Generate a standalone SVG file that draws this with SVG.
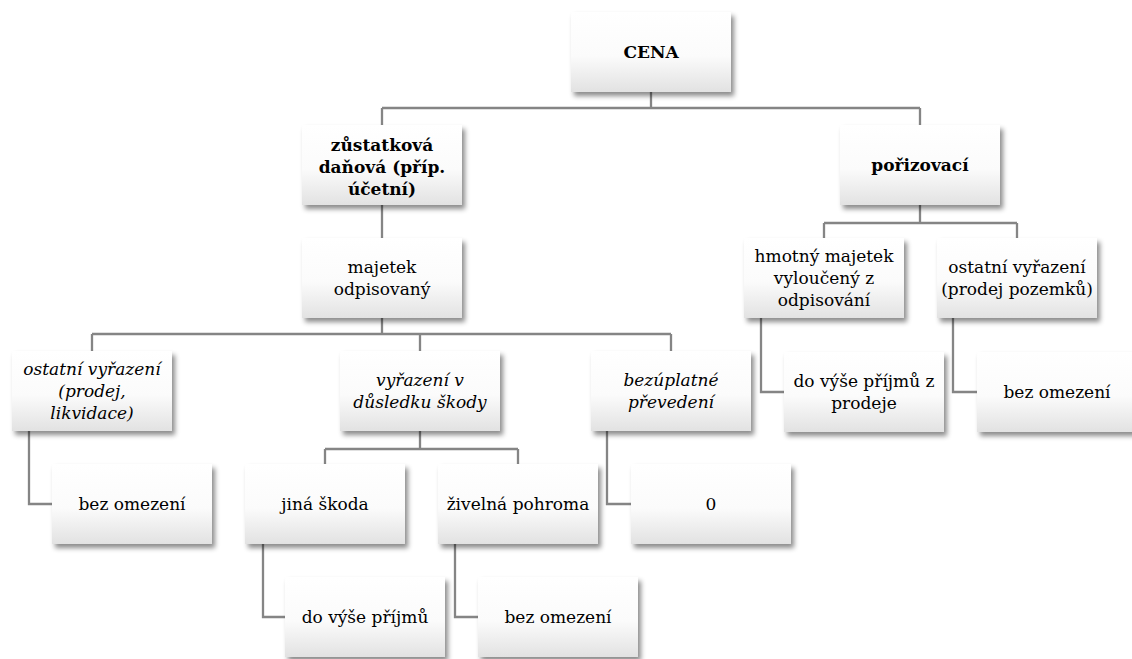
<svg xmlns="http://www.w3.org/2000/svg" width="1132" height="659" viewBox="0 0 1132 659">
<style>
.box{fill:url(#g);filter:url(#sh);}
text{font-family:'DejaVu Serif',serif;font-size:17px;fill:#000;text-anchor:middle;}
.b{font-weight:bold;}
.i{font-style:italic;}
.c{fill:none;stroke:#858585;stroke-width:2.3;}
</style>
<defs>
<linearGradient id="g" x1="0" y1="0" x2="0" y2="1">
<stop offset="0" stop-color="#ffffff"/>
<stop offset="0.55" stop-color="#fbfbfb"/>
<stop offset="1" stop-color="#e2e2e2"/>
</linearGradient>
<filter id="sh" x="-10%" y="-10%" width="125%" height="135%">
<feDropShadow dx="3" dy="4" stdDeviation="2.5" flood-color="#000" flood-opacity="0.45"/>
</filter>
</defs>
<rect width="1132" height="659" fill="#fff"/>
<g id="connectors">
<path class="c" d="M651 92V108M382 108H920M382 108V125M920 108V125"/>
<path class="c" d="M382 205V238"/>
<path class="c" d="M382 318V334M92 334H671M92 334V351M420 334V351M671 334V351"/>
<path class="c" d="M920 205V223M824 223H1017M824 223V238M1017 223V238"/>
<path class="c" d="M761 318V392H784"/>
<path class="c" d="M953 318V392H977"/>
<path class="c" d="M29 431V504H52"/>
<path class="c" d="M420 431V449M325 449H518M325 449V464M518 449V464"/>
<path class="c" d="M607 431V504H631"/>
<path class="c" d="M263 544V617H285"/>
<path class="c" d="M455 544V617H478"/>
</g>
<g id="cena"><rect class="box" x="571" y="12" width="160" height="80"/><text class="b" x="651" y="58">CENA</text></g>
<g id="zustatkova"><rect class="box" x="302" y="125" width="160" height="80"/><text class="b" x="382" y="151">zůstatková</text><text class="b" x="382" y="173">daňová (příp.</text><text class="b" x="382" y="195">účetní)</text></g>
<g id="porizovaci"><rect class="box" x="840" y="125" width="160" height="80"/><text class="b" x="920" y="171">pořizovací</text></g>
<g id="majetek"><rect class="box" x="302" y="238" width="160" height="80"/><text x="382" y="273">majetek</text><text x="382" y="295">odpisovaný</text></g>
<g id="hmotny"><rect class="box" x="744" y="238" width="160" height="80"/><text x="824" y="262">hmotný majetek</text><text x="824" y="284">vyloučený z</text><text x="824" y="306">odpisování</text></g>
<g id="ostatni-pozemky"><rect class="box" x="937" y="238" width="160" height="80"/><text x="1017" y="273">ostatní vyřazení</text><text x="1017" y="295">(prodej pozemků)</text></g>
<g id="ostatni-vyrazeni"><rect class="box" x="12" y="351" width="160" height="80"/><text class="i" x="92" y="375">ostatní vyřazení</text><text class="i" x="92" y="397">(prodej,</text><text class="i" x="92" y="419">likvidace)</text></g>
<g id="vyrazeni-skody"><rect class="box" x="340" y="351" width="160" height="80"/><text class="i" x="420" y="386">vyřazení v</text><text class="i" x="420" y="408">důsledku škody</text></g>
<g id="bezuplatne"><rect class="box" x="591" y="351" width="160" height="80"/><text class="i" x="671" y="386">bezúplatné</text><text class="i" x="671" y="408">převedení</text></g>
<g id="do-vyse-prodeje"><rect class="box" x="784" y="352" width="160" height="80"/><text x="864" y="387">do výše příjmů z</text><text x="864" y="409">prodeje</text></g>
<g id="bez-omezeni-right"><rect class="box" x="977" y="352" width="160" height="80"/><text x="1057" y="398">bez omezení</text></g>
<g id="bez-omezeni-left"><rect class="box" x="52" y="464" width="160" height="80"/><text x="132" y="510">bez omezení</text></g>
<g id="jina-skoda"><rect class="box" x="245" y="464" width="160" height="80"/><text x="325" y="510">jiná škoda</text></g>
<g id="zivelna"><rect class="box" x="438" y="464" width="160" height="80"/><text x="518" y="510">živelná pohroma</text></g>
<g id="nula"><rect class="box" x="631" y="464" width="160" height="80"/><text x="711" y="510">0</text></g>
<g id="do-vyse"><rect class="box" x="285" y="577" width="160" height="80"/><text x="365" y="623">do výše příjmů</text></g>
<g id="bez-omezeni-bottom"><rect class="box" x="478" y="577" width="160" height="80"/><text x="558" y="623">bez omezení</text></g>
</svg>
